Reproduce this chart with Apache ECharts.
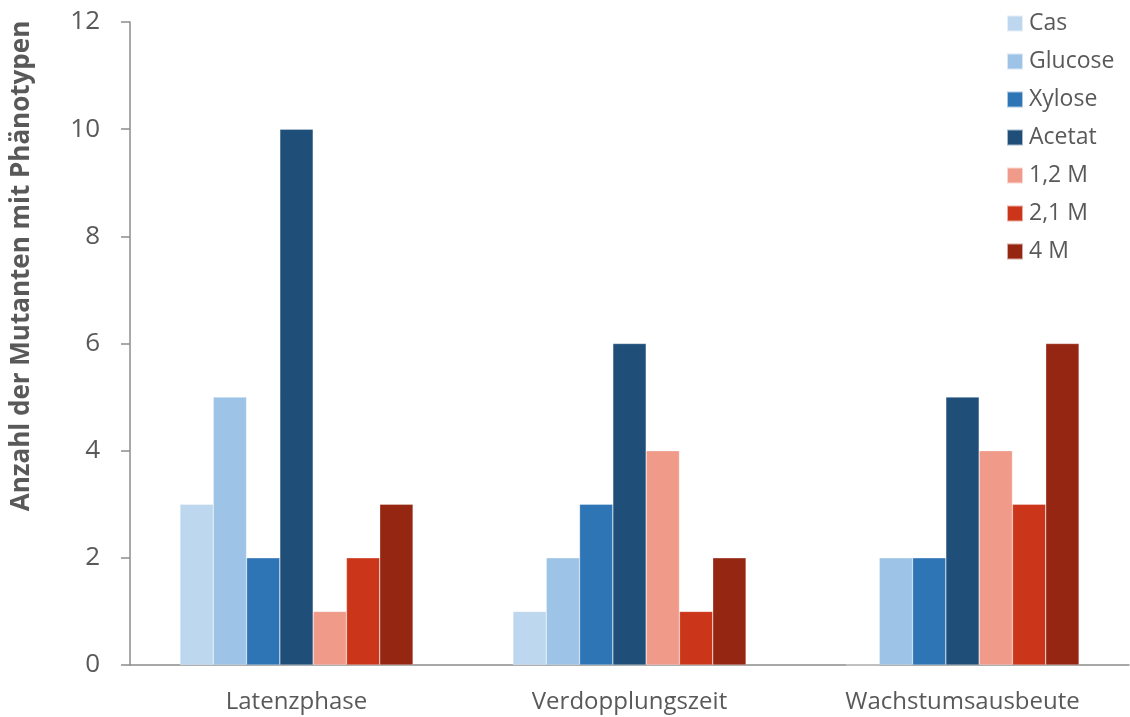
<!DOCTYPE html>
<html>
<head>
<meta charset="utf-8">
<script src="https://cdn.jsdelivr.net/npm/echarts@6/dist/echarts.min.js"></script>
<style>
  html, body { margin: 0; padding: 0; background: #fff; }
  #chart { width: 1130px; height: 717px; }
</style>
</head>
<body>
<div id="chart"></div>
<script>
// Categories along the x axis
const categories = ['Latenzphase', 'Verdopplungszeit', 'Wachstumsausbeute'];

// Number of mutants per condition
const seriesNames = ['Cas', 'Glucose', 'Xylose', 'Acetat', '1,2 M', '2,1 M', '4 M'];
const cas     = [3, 1, 0];
const glucose = [5, 2, 2];
const xylose  = [2, 3, 2];
const acetat  = [10, 6, 5];
const m12     = [1, 4, 4];
const m21     = [2, 1, 3];
const m4      = [3, 2, 6];
const seriesValues = [cas, glucose, xylose, acetat, m12, m21, m4];

const colors = ['#BDD7EE', '#9DC3E6', '#2E75B6', '#1F4E79', '#F09A8A', '#CB351A', '#952612'];

const font = '"Open Sans", sans-serif';
const textGray = '#595959';

const chart = echarts.init(document.getElementById('chart'), null, { renderer: 'canvas' });

chart.setOption({
  animation: false,
  backgroundColor: '#fff',
  grid: { left: 130, right: 1, top: 22, bottom: 52, containLabel: false },
  legend: {
    orient: 'vertical',
    left: 1001,
    top: 7,
    padding: [5, 5, 5, 5],
    itemWidth: 16,
    itemHeight: 16,
    itemGap: 15,
    icon: 'rect',
    data: seriesNames,
    textStyle: { fontFamily: font, fontSize: 23, color: textGray, lineHeight: 16, padding: [0, 0, 0, 1] }
  },
  xAxis: {
    type: 'category',
    data: categories,
    axisLine: { lineStyle: { color: '#8C8C8C', width: 1.5 } },
    axisTick: { show: false },
    axisLabel: { fontFamily: font, fontSize: 24, color: textGray, margin: 25 }
  },
  yAxis: {
    type: 'value',
    min: 0,
    max: 12,
    interval: 2,
    axisLine: { show: true, lineStyle: { color: '#8C8C8C', width: 1.5 } },
    axisTick: { show: true, length: 9, lineStyle: { color: '#8C8C8C', width: 1.5 } },
    splitLine: { show: false },
    axisLabel: { fontFamily: font, fontSize: 26, color: textGray, margin: 30 }
  },
  graphic: [{
    type: 'text',
    x: 22,
    y: 266,
    rotation: Math.PI / 2,
    style: {
      text: 'Anzahl der Mutanten mit Phänotypen',
      fontFamily: font,
      fontSize: 26,
      fontWeight: 'bold',
      fill: textGray,
      align: 'center',
      verticalAlign: 'middle'
    }
  }],
  series: seriesNames.map((name, i) => ({
    name: name,
    type: 'bar',
    data: seriesValues[i],
    barGap: '0%',
    barCategoryGap: '30%',
    itemStyle: { color: colors[i], borderColor: 'rgba(255,255,255,0.6)', borderWidth: 0.5 }
  }))
});
</script>
</body>
</html>
